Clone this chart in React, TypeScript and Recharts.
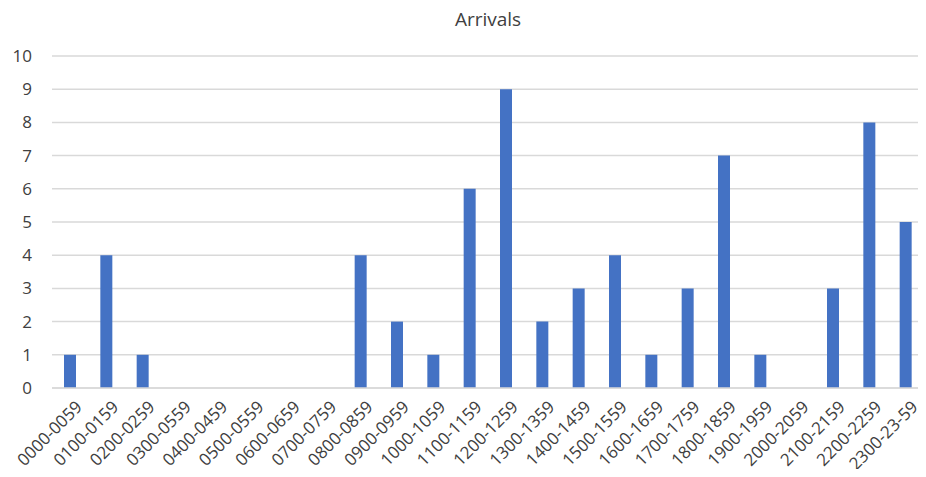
import React from "react";
import { BarChart, Bar, XAxis, YAxis, CartesianGrid } from "recharts";

const categories = [
  "0000-0059", "0100-0159", "0200-0259", "0300-0559", "0400-0459", "0500-0559",
  "0600-0659", "0700-0759", "0800-0859", "0900-0959", "1000-1059", "1100-1159",
  "1200-1259", "1300-1359", "1400-1459", "1500-1559", "1600-1659", "1700-1759",
  "1800-1859", "1900-1959", "2000-2059", "2100-2159", "2200-2259", "2300-23-59",
];
const arrivals = [1, 4, 1, 0, 0, 0, 0, 0, 4, 2, 1, 6, 9, 2, 3, 4, 1, 3, 7, 1, 0, 3, 8, 5];
const yTicks = [0, 1, 2, 3, 4, 5, 6, 7, 8, 9, 10];

const data = categories.map((c, i) => ({ name: c, value: arrivals[i] }));

const FONT = "'Open Sans', 'Noto Sans', sans-serif";

const XTick = (props: any) => {
  const { x, y, payload } = props;
  return (
    <g transform={`translate(${x + 6},${y + 5})`}>
      <text
        x={0}
        y={0}
        dy={10}
        textAnchor="end"
        transform="rotate(-45)"
        fill="#404040"
        fontSize={17}
        fontFamily={FONT}
      >
        {payload.value}
      </text>
    </g>
  );
};

export default function App() {
  return (
    <div style={{ margin: -8, width: 926, height: 477, background: "#fff", position: "relative" }}>
      <div
        style={{
          position: "absolute",
          left: 52,
          width: 872,
          top: 6,
          textAlign: "center",
          fontFamily: FONT,
          fontSize: 19,
          color: "#404040",
        }}
      >
        Arrivals
      </div>
      <BarChart
        width={926}
        height={477}
        data={data}
        margin={{ top: 56, right: 2, bottom: 0, left: 0 }}
        barCategoryGap="33%"
      >
        <CartesianGrid vertical={false} stroke="#d9d9d9" strokeWidth={1.5} />
        <XAxis
          dataKey="name"
          interval={0}
          tickLine={false}
          axisLine={{ stroke: "#d9d9d9", strokeWidth: 1.5 }}
          tick={<XTick />}
          height={89}
        />
        <YAxis
          domain={[0, 10]}
          ticks={yTicks}
          interval={0}
          width={52}
          tickLine={false}
          axisLine={false}
          tickMargin={14}
          tick={{ fill: "#404040", fontSize: 17, fontFamily: FONT }}
        />
        <Bar dataKey="value" fill="#4472c4" barSize={12} isAnimationActive={false} />
      </BarChart>
    </div>
  );
}
